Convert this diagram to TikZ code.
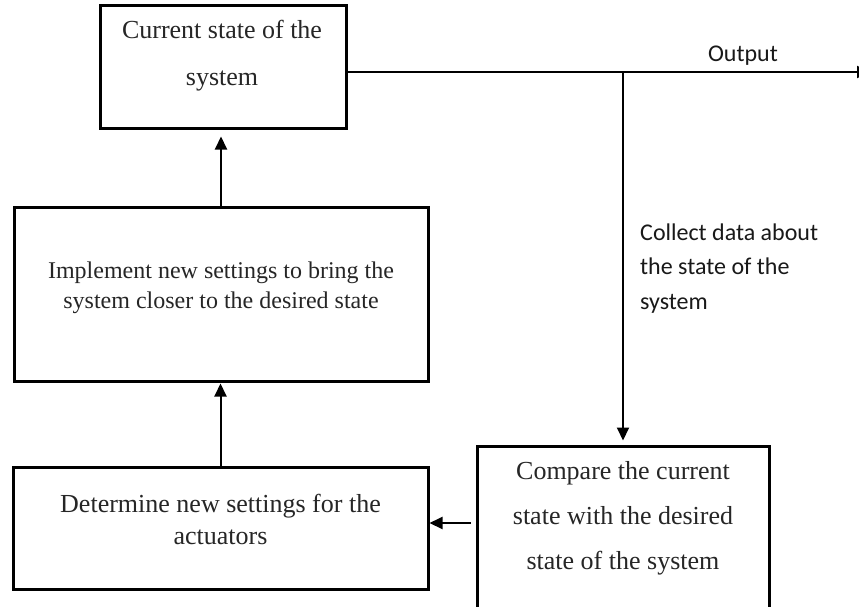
\documentclass[tikz,border=0pt]{standalone}
\usepackage{fontspec}
\setmainfont{Liberation Serif}
\newfontfamily\calfont{Carlito}
\usetikzlibrary{arrows.meta}
\begin{document}
\begin{tikzpicture}[x=1pt,y=-1pt,
  box/.style={draw=black, line width=3pt, inner sep=0pt},
  txt/.style={anchor=base, align=center, inner sep=0pt, text=black!85},
  lbl/.style={inner sep=0pt, text=black!90},
  arr/.style={line width=2pt, -{Triangle[length=13pt,width=12pt]}}
]
\clip (0,0) rectangle (859,607);
\fill[white] (0,0) rectangle (859,607);
% boxes
\node[box, minimum width=246pt, minimum height=123pt] (b1) at (223,67.5) {};
\node[box, minimum width=414pt, minimum height=174pt] (b2) at (221,294) {};
\node[box, minimum width=415pt, minimum height=122pt] (b3) at (220.5,528) {};
\node[box, minimum width=292pt, minimum height=184pt] (b4) at (623,538) {};
% box texts (anchor base = last line's baseline)
\node[txt, font=\fontsize{26}{47}\selectfont] (t1) at (222,86) {Current state of the\\system};
\node[txt, font=\fontsize{24}{30}\selectfont] (t2) at (221,308) {Implement new settings to bring the\\system closer to the desired state};
\node[txt, font=\fontsize{26}{32}\selectfont] (t3) at (220.5,544) {Determine new settings for the\\actuators};
\node[txt, font=\fontsize{26}{45}\selectfont] (t4) at (623,569) {Compare the current\\state with the desired\\state of the system};
% connectors
\coordinate (j) at (623,72);
\coordinate (out) at (870,72);
\draw[arr] (b1.east |- j) -- (out);
\draw[arr, shorten >=4pt] (j) -- (b4.north);
\draw[arr, shorten <=5pt] (b4.west |- 0,523) -- (b3.east |- 0,523);
\draw[arr, shorten >=1pt] (b3.north) -- (b3.north |- b2.south);
\draw[arr, shorten >=6pt] (b2.north) -- (b2.north |- b1.south);
% labels
\node[lbl, anchor=base, font=\calfont\fontsize{24}{29}\selectfont] (outlbl) at (743,62) {Output};
\node[lbl, anchor=base west, align=left, font=\calfont\fontsize{24}{34.5}\selectfont] (collect) at (640,309) {Collect data about\\the state of the\\system};
\end{tikzpicture}
\end{document}
